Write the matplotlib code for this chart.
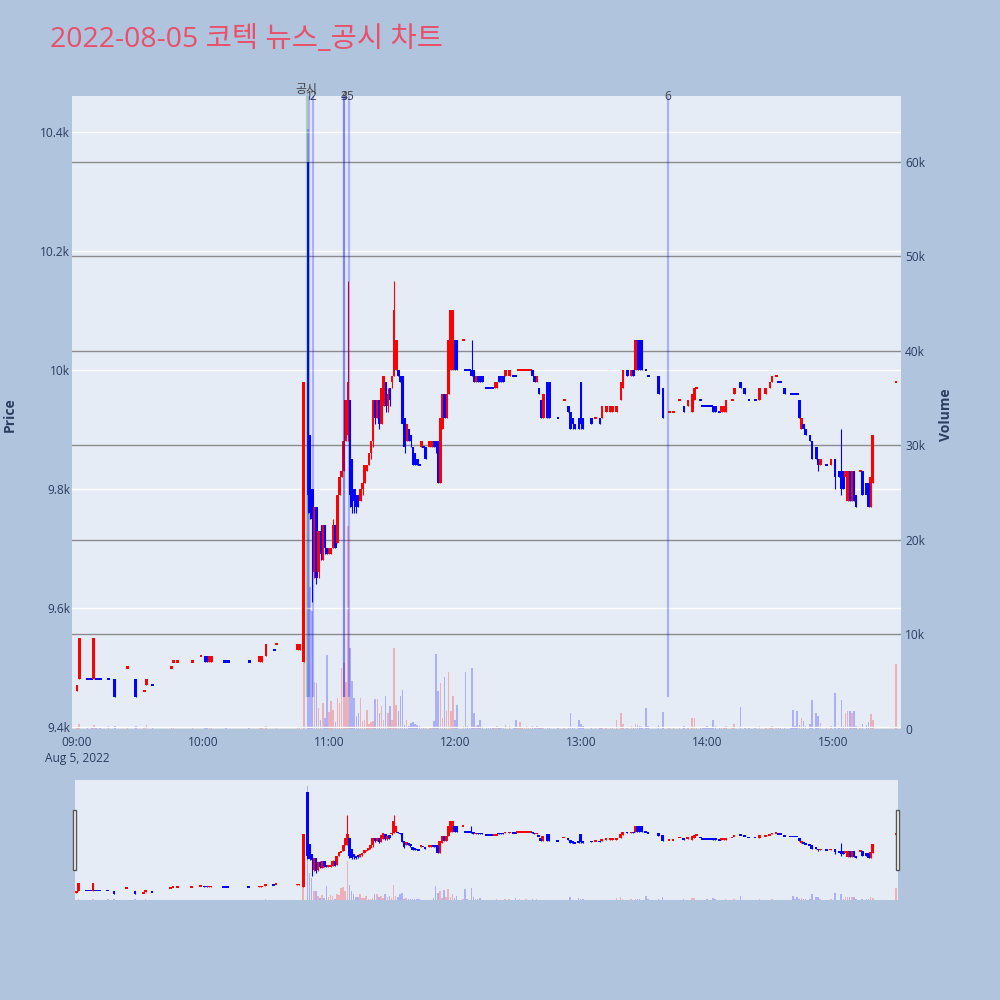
import numpy as np
import matplotlib.pyplot as plt
from matplotlib.patches import Rectangle

plt.rcParams['font.family'] = ['Open Sans', 'Noto Sans CJK KR', 'DejaVu Sans']

# one-minute candles (minutes without trades are left out)
times = [
    "09:00", "09:01", "09:05", "09:06", "09:07", "09:08", "09:09", "09:10", "09:11", "09:15", "09:18", "09:24",
    "09:28", "09:32", "09:33", "09:36", "09:45", "09:46", "09:48", "09:55", "09:59", "10:01", "10:02", "10:03",
    "10:04", "10:10", "10:11", "10:12", "10:22", "10:27", "10:28", "10:30", "10:34", "10:35", "10:45", "10:46",
    "10:48", "10:50", "10:51", "10:52", "10:53", "10:54", "10:55", "10:56", "10:57", "10:58", "10:59", "11:00",
    "11:01", "11:02", "11:03", "11:04", "11:05", "11:06", "11:07", "11:08", "11:09", "11:10", "11:11", "11:12",
    "11:13", "11:14", "11:15", "11:16", "11:17", "11:18", "11:19", "11:20", "11:21", "11:22", "11:23", "11:24",
    "11:25", "11:26", "11:27", "11:28", "11:29", "11:30", "11:31", "11:32", "11:33", "11:34", "11:35", "11:36",
    "11:37", "11:38", "11:39", "11:40", "11:41", "11:42", "11:43", "11:44", "11:45", "11:46", "11:48", "11:49",
    "11:50", "11:51", "11:52", "11:53", "11:54", "11:55", "11:56", "11:57", "11:58", "11:59", "12:00", "12:01",
    "12:04", "12:05", "12:06", "12:07", "12:08", "12:09", "12:10", "12:11", "12:12", "12:13", "12:15", "12:16",
    "12:17", "12:18", "12:19", "12:20", "12:21", "12:22", "12:23", "12:24", "12:26", "12:28", "12:29", "12:30",
    "12:31", "12:32", "12:33", "12:34", "12:35", "12:36", "12:37", "12:38", "12:39", "12:40", "12:41", "12:42",
    "12:44", "12:45", "12:49", "12:52", "12:54", "12:55", "12:56", "12:57", "12:59", "13:00", "13:01", "13:05",
    "13:07", "13:09", "13:10", "13:12", "13:14", "13:15", "13:17", "13:19", "13:20", "13:22", "13:24", "13:25",
    "13:26", "13:27", "13:28", "13:29", "13:31", "13:32", "13:37", "13:39", "13:42", "13:44", "13:47", "13:49",
    "13:51", "13:53", "13:54", "13:55", "13:57", "13:58", "13:59", "14:00", "14:01", "14:02", "14:03", "14:04",
    "14:06", "14:07", "14:08", "14:09", "14:12", "14:13", "14:16", "14:18", "14:20", "14:23", "14:25", "14:28",
    "14:30", "14:31", "14:33", "14:34", "14:35", "14:37", "14:40", "14:41", "14:42", "14:43", "14:44", "14:45",
    "14:46", "14:47", "14:49", "14:50", "14:52", "14:53", "14:54", "14:57", "14:59", "15:01", "15:03", "15:04",
    "15:05", "15:06", "15:07", "15:08", "15:09", "15:10", "15:11", "15:13", "15:14", "15:16", "15:17", "15:18",
    "15:19", "15:30",
]
opens = [
    9460, 9480, 9480, 9480, 9480, 9480, 9480, 9480, 9480, 9480, 9480, 9500,
    9480, 9460, 9470, 9470, 9500, 9510, 9510, 9510, 9520, 9520, 9520, 9510,
    9510, 9510, 9510, 9510, 9510, 9510, 9510, 9520, 9530, 9540, 9530, 9530,
    9510, 10350, 9890, 9800, 9660, 9770, 9660, 9730, 9680, 9740, 9700, 9690,
    9690, 9700, 9740, 9710, 9790, 9820, 9830, 9880, 9890, 9950, 9850, 9800,
    9790, 9790, 9780, 9800, 9810, 9830, 9840, 9860, 9880, 9950, 9920, 9950,
    9910, 9940, 9980, 9940, 9970, 9980, 9990, 10000, 10000, 9990, 9990, 9920,
    9880, 9900, 9890, 9870, 9860, 9850, 9840, 9870, 9870, 9870, 9870, 9870,
    9880, 9880, 9880, 9810, 9900, 9960, 9920, 9960, 10000, 10000, 10050, 10050,
    10050, 10000, 10000, 10000, 10000, 10000, 9980, 9990, 9990, 9990, 9970, 9970,
    9970, 9970, 9970, 9970, 9990, 9990, 9990, 9990, 9990, 9990, 9990, 10000,
    10000, 10000, 10000, 10000, 10000, 10000, 10000, 9990, 9980, 9970, 9950, 9920,
    9980, 9980, 9920, 9950, 9940, 9930, 9920, 9910, 9920, 9980, 9920, 9920,
    9920, 9920, 9920, 9930, 9930, 9930, 9930, 9950, 9970, 10000, 9990, 10000,
    10000, 10050, 10050, 10050, 10000, 9990, 9990, 9970, 9930, 9930, 9950, 9940,
    9940, 9930, 9950, 9970, 9950, 9940, 9940, 9940, 9940, 9940, 9940, 9940,
    9930, 9930, 9930, 9930, 9950, 9960, 9980, 9970, 9950, 9950, 9950, 9960,
    9970, 9980, 9990, 9980, 9980, 9970, 9960, 9960, 9960, 9960, 9950, 9900,
    9910, 9900, 9890, 9880, 9870, 9850, 9840, 9840, 9840, 9850, 9830, 9830,
    9830, 9820, 9780, 9830, 9780, 9830, 9790, 9830, 9830, 9810, 9810, 9770,
    9810, 9980,
]
highs = [
    9470, 9550, 9480, 9480, 9480, 9550, 9480, 9480, 9480, 9480, 9480, 9500,
    9480, 9460, 9480, 9470, 9500, 9510, 9510, 9510, 9520, 9520, 9520, 9520,
    9520, 9510, 9510, 9510, 9510, 9520, 9520, 9540, 9530, 9540, 9540, 9540,
    9980, 10350, 9890, 9800, 9770, 9770, 9730, 9740, 9740, 9740, 9700, 9700,
    9700, 9750, 9740, 9790, 9820, 9830, 9880, 9950, 10150, 9950, 9850, 9800,
    9790, 9790, 9800, 9810, 9840, 9840, 9860, 9880, 9950, 9950, 9950, 9950,
    9970, 9990, 9980, 9970, 9970, 9990, 10150, 10050, 10000, 9990, 9990, 9920,
    9910, 9900, 9890, 9870, 9860, 9850, 9840, 9880, 9870, 9870, 9880, 9880,
    9880, 9880, 9880, 9920, 9960, 9960, 9960, 10050, 10100, 10100, 10050, 10050,
    10050, 10000, 10000, 10000, 10050, 10000, 9990, 9990, 9990, 9990, 9970, 9970,
    9970, 9970, 9980, 9980, 9990, 9990, 9990, 10000, 10000, 9990, 9990, 10000,
    10000, 10000, 10000, 10000, 10000, 10000, 10000, 9990, 9990, 9970, 9950, 9960,
    9980, 9980, 9920, 9950, 9940, 9930, 9920, 9910, 9920, 9980, 9920, 9920,
    9920, 9920, 9940, 9940, 9940, 9940, 9940, 9980, 10000, 10000, 10000, 10000,
    10050, 10050, 10050, 10050, 10000, 9990, 9990, 9970, 9930, 9930, 9950, 9940,
    9950, 9960, 9970, 9970, 9950, 9940, 9940, 9940, 9940, 9940, 9940, 9940,
    9930, 9940, 9940, 9950, 9950, 9970, 9980, 9970, 9950, 9950, 9970, 9970,
    9980, 9990, 9990, 9980, 9980, 9970, 9960, 9960, 9960, 9960, 9950, 9920,
    9910, 9900, 9890, 9880, 9870, 9850, 9850, 9840, 9850, 9850, 9830, 9900,
    9830, 9830, 9830, 9830, 9830, 9830, 9790, 9830, 9830, 9810, 9810, 9820,
    9890, 9980,
]
lows = [
    9460, 9480, 9480, 9480, 9480, 9480, 9480, 9480, 9480, 9480, 9450, 9500,
    9450, 9460, 9470, 9470, 9500, 9510, 9510, 9510, 9520, 9510, 9510, 9510,
    9510, 9510, 9510, 9510, 9510, 9510, 9510, 9520, 9530, 9540, 9530, 9530,
    9510, 9760, 9750, 9610, 9650, 9640, 9650, 9680, 9680, 9690, 9690, 9690,
    9690, 9700, 9700, 9710, 9790, 9820, 9830, 9880, 9880, 9770, 9760, 9760,
    9760, 9770, 9780, 9790, 9810, 9830, 9840, 9850, 9870, 9910, 9920, 9900,
    9910, 9940, 9930, 9930, 9940, 9970, 9990, 10000, 9990, 9980, 9910, 9860,
    9880, 9880, 9870, 9840, 9840, 9840, 9840, 9870, 9870, 9850, 9870, 9870,
    9870, 9860, 9810, 9810, 9900, 9920, 9920, 9960, 10000, 10000, 10000, 10000,
    10050, 10000, 10000, 10000, 9990, 9980, 9980, 9980, 9980, 9980, 9970, 9970,
    9970, 9970, 9970, 9970, 9980, 9980, 9980, 9990, 9990, 9990, 9990, 10000,
    10000, 10000, 10000, 10000, 10000, 10000, 9990, 9980, 9980, 9960, 9920, 9920,
    9920, 9920, 9920, 9950, 9930, 9900, 9900, 9900, 9900, 9900, 9900, 9910,
    9920, 9910, 9920, 9930, 9930, 9930, 9930, 9950, 9970, 9990, 9990, 9990,
    10000, 10000, 10000, 10000, 10000, 9990, 9960, 9920, 9930, 9930, 9950, 9930,
    9940, 9930, 9950, 9970, 9950, 9940, 9940, 9940, 9940, 9940, 9930, 9930,
    9930, 9930, 9930, 9930, 9950, 9960, 9970, 9960, 9950, 9950, 9950, 9960,
    9970, 9980, 9990, 9980, 9980, 9960, 9960, 9960, 9960, 9960, 9920, 9900,
    9900, 9890, 9880, 9850, 9850, 9830, 9840, 9840, 9840, 9800, 9820, 9790,
    9800, 9820, 9780, 9780, 9780, 9780, 9770, 9830, 9790, 9790, 9770, 9770,
    9810, 9980,
]
closes = [
    9470, 9550, 9480, 9480, 9480, 9550, 9480, 9480, 9480, 9480, 9450, 9500,
    9450, 9460, 9480, 9470, 9500, 9510, 9510, 9510, 9520, 9510, 9510, 9520,
    9520, 9510, 9510, 9510, 9510, 9520, 9520, 9540, 9530, 9540, 9540, 9540,
    9980, 9790, 9760, 9750, 9770, 9650, 9730, 9690, 9740, 9700, 9690, 9700,
    9700, 9740, 9700, 9790, 9820, 9830, 9880, 9950, 9980, 9790, 9770, 9780,
    9770, 9780, 9800, 9810, 9840, 9840, 9860, 9880, 9950, 9920, 9950, 9910,
    9970, 9990, 9940, 9960, 9950, 9990, 10100, 10050, 9990, 9980, 9910, 9870,
    9910, 9880, 9880, 9840, 9840, 9840, 9840, 9880, 9870, 9850, 9880, 9880,
    9870, 9870, 9810, 9920, 9960, 9920, 9960, 10050, 10100, 10100, 10000, 10000,
    10050, 10000, 10000, 10000, 9990, 9980, 9990, 9980, 9980, 9980, 9970, 9970,
    9970, 9970, 9980, 9980, 9980, 9980, 9980, 10000, 10000, 9990, 9990, 10000,
    10000, 10000, 10000, 10000, 10000, 10000, 9990, 9980, 9990, 9960, 9920, 9960,
    9920, 9920, 9920, 9950, 9930, 9900, 9910, 9900, 9900, 9910, 9900, 9910,
    9920, 9910, 9940, 9940, 9940, 9940, 9940, 9980, 10000, 9990, 10000, 9990,
    10050, 10000, 10000, 10000, 10000, 9990, 9960, 9920, 9930, 9930, 9950, 9930,
    9950, 9960, 9970, 9970, 9950, 9940, 9940, 9940, 9940, 9940, 9930, 9930,
    9930, 9940, 9940, 9950, 9950, 9970, 9970, 9960, 9950, 9950, 9970, 9970,
    9980, 9990, 9990, 9980, 9980, 9960, 9960, 9960, 9960, 9960, 9920, 9920,
    9900, 9890, 9880, 9850, 9850, 9840, 9850, 9840, 9850, 9820, 9820, 9800,
    9800, 9830, 9830, 9780, 9830, 9780, 9770, 9830, 9790, 9790, 9770, 9820,
    9890, 9980,
]
volumes = [
    200, 550, 60, 50, 80, 400, 60, 50, 90, 300, 300, 100,
    300, 100, 400, 150, 100, 60, 50, 100, 50, 200, 120, 100,
    150, 50, 60, 50, 100, 100, 150, 300, 50, 60, 100, 150,
    30000, 63500, 15000, 12500, 5000, 4900, 2200, 1000, 2800, 1200, 7800, 1800,
    3000, 2000, 700, 3300, 2700, 6500, 7000, 5000, 21500, 8600, 5100, 3300,
    1400, 1700, 3300, 850, 1000, 2000, 500, 700, 850, 3200, 3200, 1700,
    2400, 1000, 3500, 1700, 2400, 1000, 8600, 2500, 1900, 3500, 4100, 400,
    1000, 300, 600, 700, 500, 400, 300, 200, 200, 250, 150, 100,
    850, 7900, 4000, 4900, 1200, 5500, 1900, 6000, 1900, 3500, 1000, 2500,
    300, 6000, 300, 250, 6500, 1700, 300, 400, 1000, 200, 100, 150,
    100, 120, 150, 300, 100, 200, 100, 400, 300, 100, 900, 200,
    700, 150, 100, 300, 200, 250, 350, 150, 300, 200, 150, 100,
    200, 150, 100, 100, 200, 1700, 150, 100, 900, 500, 300, 100,
    100, 100, 200, 150, 100, 100, 900, 1700, 500, 150, 300, 200,
    500, 400, 300, 200, 2200, 300, 400, 1800, 100, 100, 100, 300,
    200, 1200, 1200, 150, 100, 150, 200, 300, 100, 200, 900, 300,
    100, 200, 150, 300, 100, 500, 2300, 200, 100, 100, 300, 150,
    200, 300, 150, 100, 150, 200, 150, 2000, 300, 1900, 400, 1200,
    800, 300, 500, 3100, 1700, 1400, 600, 200, 300, 3800, 200, 3100,
    300, 1700, 1900, 1900, 1700, 1900, 300, 200, 500, 400, 700, 1600,
    1000, 6900,
]

news_times = ["10:49:20", "10:50:30", "10:52:25", "11:06:55", "11:07:05", "11:09:35", "13:41:25"]
news_labels = ["공시", "1", "2", "3", "4", "5", "6"]

title = "2022-08-05 코텍 뉴스_공시 차트"
price_ticks = [9400, 9600, 9800, 10000, 10200, 10400]
price_labels = ["9.4k", "9.6k", "9.8k", "10k", "10.2k", "10.4k"]
vol_ticks = [0, 10000, 20000, 30000, 40000, 50000, 60000]
vol_labels = ["0", "10k", "20k", "30k", "40k", "50k", "60k"]
hours = ["09:00", "10:00", "11:00", "12:00", "13:00", "14:00", "15:00"]
date_label = "Aug 5, 2022"

assert len(times) == len(opens) == len(highs) == len(lows) == len(closes) == len(volumes)


def to_min(t):
    p = [int(v) for v in t.split(":")]
    sec = p[2] if len(p) > 2 else 0
    return (p[0] - 9) * 60 + p[1] + sec / 60


x = np.array([to_min(t) for t in times])
o = np.array(opens)
h = np.array(highs)
l = np.array(lows)
c = np.array(closes)
v = np.array(volumes)

# same rule plotly uses: flat candles follow the previous close
up = []
prev_c, prev_up = None, True
for oo, cc in zip(o, c):
    if cc > oo:
        u = True
    elif cc < oo:
        u = False
    elif prev_c is not None and cc > prev_c:
        u = True
    elif prev_c is not None and cc < prev_c:
        u = False
    else:
        u = prev_up
    up.append(u)
    prev_c, prev_up = cc, u
colors = np.where(up, "#FF0000", "#0000FF")

BG = "#E5ECF6"
FIG_BG = "#B0C4DE"
TXT = "#2a3f5f"
P_LIM = (9396.6, 10460.5)
V_LIM = (0, 66980)


def draw(ax_p, ax_v, min_body):
    ax_v.bar(x, v, width=0.75, color=colors, alpha=0.25, linewidth=0)
    ax_p.vlines(x, l, h, colors=colors, linewidth=0.8)
    # flat candles still show as a short 2px dash, like plotly
    mid = (o + c) / 2
    body = np.maximum(np.abs(c - o), min_body)
    ax_p.bar(x, body, bottom=mid - body / 2, width=1.3, color=colors, linewidth=0)


def layered(rect):
    ap = fig.add_axes(rect)
    av = ap.twinx()
    ap.set_zorder(av.get_zorder() + 1)
    ap.patch.set_visible(False)
    av.patch.set_visible(True)
    av.patch.set_facecolor(BG)
    for a in (ap, av):
        for s in a.spines.values():
            s.set_visible(False)
    return ap, av


fig = plt.figure(figsize=(10, 10), dpi=100, facecolor=FIG_BG)

# main chart
ax, vax = layered([0.072, 0.271, 0.829, 0.633])
draw(ax, vax, 3.5)
ax.set_xlim(-2.4, 392.4)
ax.set_ylim(*P_LIM)
vax.set_ylim(*V_LIM)
ax.set_yticks(price_ticks, price_labels)
vax.set_yticks(vol_ticks, vol_labels)
hour_labels = list(hours)
hour_labels[0] = hours[0] + "\n" + date_label
ax.set_xticks([to_min(t) for t in hours], hour_labels, linespacing=1.35)
vax.grid(axis='y', color='#8c8c8c', linewidth=1.0)
vax.set_axisbelow(True)
ax.grid(axis='y', color='white', linewidth=1.0)
ax.set_axisbelow(True)
ax.tick_params(axis='y', length=0, pad=1.5, colors=TXT, labelsize=8.6)
ax.tick_params(axis='x', length=0, pad=5, colors=TXT, labelsize=8.6)
vax.tick_params(axis='y', length=0, pad=3, colors=TXT, labelsize=8.6)

for t, lab in zip(news_times, news_labels):
    xm = to_min(t)
    disc = lab == "공시"
    ax.vlines(xm, 9450, P_LIM[1], colors='green' if disc else 'blue',
              alpha=0.25, linewidth=1.6, zorder=5)
    ax.annotate(lab, xy=(xm, 1), xycoords=('data', 'axes fraction'),
                xytext=(0, 4.5 if disc else -0.5), textcoords='offset points',
                ha='center', va='center', fontsize=8.6, color='#444444',
                annotation_clip=False)

fig.text(0.05, 0.96, title, fontsize=20.5, color='#E9506A', ha='left', va='center')
fig.text(0.010, 0.585, "Price", rotation=90, ha='center', va='center',
         fontsize=10, fontweight='bold', color=TXT)
fig.text(0.946, 0.585, "Volume", rotation=90, ha='center', va='center',
         fontsize=10, fontweight='bold', color=TXT)

# range slider
sax, svax = layered([0.075, 0.100, 0.823, 0.120])
draw(sax, svax, 15)
sax.set_xlim(-0.6, 391)
sax.set_ylim(*P_LIM)
svax.set_ylim(*V_LIM)
for a in (sax, svax):
    a.set_xticks([])
    a.set_yticks([])
for hx in (0.0728, 0.8958):
    fig.patches.append(Rectangle((hx, 0.130), 0.0036, 0.060, transform=fig.transFigure,
                                 facecolor='white', edgecolor='#555555', linewidth=1.0))

fig.savefig('out.png', dpi=100, facecolor=FIG_BG)
